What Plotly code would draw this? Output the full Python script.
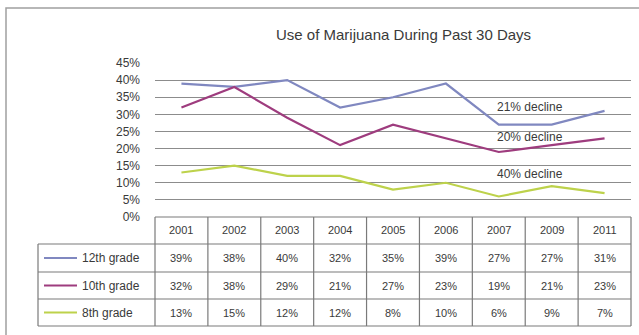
import plotly.graph_objects as go

years = ["2001", "2002", "2003", "2004", "2005", "2006", "2007", "2009", "2011"]
series_names = ["12th grade", "10th grade", "8th grade"]
grade12 = [39, 38, 40, 32, 35, 39, 27, 27, 31]
grade10 = [32, 38, 29, 21, 27, 23, 19, 21, 23]
grade8 = [13, 15, 12, 12, 8, 10, 6, 9, 7]
declines = ["21% decline", "20% decline", "40% decline"]
decline_y = [32.1, 23.3, 12.5]
title = "Use of Marijuana During Past 30 Days"

colors = ["#8088C0", "#9E3C7E", "#BDD24B"]
series = [grade12, grade10, grade8]

W, H = 639, 335
L, R = 155, 631
T, B = 63, 217  # 45% and 0%

def px(x):
    return (x - L) / (R - L)

def py(y):
    return (B - y) / (B - T)

xs = list(range(len(years)))
fig = go.Figure()
for name, vals, col in zip(series_names, series, colors):
    fig.add_trace(go.Scatter(x=xs, y=vals, mode="lines", name=name,
                             line=dict(color=col, width=2.2), showlegend=False,
                             cliponaxis=False))

font = "Liberation Sans"
txt = "#3a3a3a"
ann = []
shapes = []
# title
ann.append(dict(text=title, x=px(403), y=py(35), xref="paper", yref="paper",
                showarrow=False, font=dict(family=font, size=15, color=txt),
                xanchor="center", yanchor="middle"))
# decline labels
for t, yv in zip(declines, decline_y):
    ann.append(dict(text=t, x=6.59, y=yv, xref="x", yref="y", showarrow=False,
                    font=dict(family=font, size=12, color=txt),
                    xanchor="center", yanchor="middle"))

# table geometry (pixel rows)
rows = [217, 244, 272, 299, 326]
tleft = 38
line_col = "#7a7a7a"
# header years
for i, yr in enumerate(years):
    ann.append(dict(text=yr, x=i, y=py((rows[0] + rows[1]) / 2), xref="x", yref="paper",
                    showarrow=False, font=dict(family=font, size=11, color=txt),
                    xanchor="center", yanchor="middle"))
# data rows
for r, (name, vals, col) in enumerate(zip(series_names, series, colors)):
    yc = py((rows[r + 1] + rows[r + 2]) / 2)
    for i, v in enumerate(vals):
        ann.append(dict(text=f"{v}%", x=i, y=yc, xref="x", yref="paper",
                        showarrow=False, font=dict(family=font, size=11, color=txt),
                        xanchor="center", yanchor="middle"))
    ann.append(dict(text=name, x=px(80), y=yc, xref="paper", yref="paper",
                    showarrow=False, font=dict(family=font, size=12, color=txt),
                    xanchor="left", yanchor="middle"))
    shapes.append(dict(type="line", xref="paper", yref="paper",
                       x0=px(44), x1=px(77), y0=yc, y1=yc,
                       line=dict(color=col, width=2.2)))

# horizontal table lines
shapes.append(dict(type="line", xref="paper", yref="paper", x0=0, x1=1,
                   y0=py(rows[0]), y1=py(rows[0]), line=dict(color=line_col, width=1.2)))
for ry in rows[1:]:
    shapes.append(dict(type="line", xref="paper", yref="paper", x0=px(tleft), x1=1,
                       y0=py(ry), y1=py(ry), line=dict(color=line_col, width=1.2)))
# vertical table lines
for i in range(len(years) + 1):
    xp = i / len(years)
    shapes.append(dict(type="line", xref="paper", yref="paper", x0=xp, x1=xp,
                       y0=py(rows[0]), y1=py(rows[-1]), line=dict(color=line_col, width=1.2)))
shapes.append(dict(type="line", xref="paper", yref="paper", x0=px(tleft), x1=px(tleft),
                   y0=py(rows[1]), y1=py(rows[-1]), line=dict(color=line_col, width=1.2)))
# outer chart border
shapes.append(dict(type="rect", xref="paper", yref="paper", x0=px(6), x1=px(660),
                   y0=py(8), y1=py(360), line=dict(color="#a0a0a0", width=1.5)))

fig.update_layout(
    width=W, height=H,
    margin=dict(l=L, r=W - R, t=T, b=H - B, pad=0),
    paper_bgcolor="white", plot_bgcolor="white",
    xaxis=dict(range=[-0.5, len(years) - 0.5], showticklabels=False, showgrid=False,
               zeroline=False, showline=False, ticks=""),
    yaxis=dict(range=[0, 45], dtick=5, tickformat="d", showgrid=True,
               gridcolor="#8c8c8c", gridwidth=1.2, zeroline=False, showline=False,
               ticks="", ticksuffix="%", tickfont=dict(family=font, size=12, color=txt),
               ticklabelstandoff=14),
    annotations=ann, shapes=shapes,
)
fig.write_html("out.html")
